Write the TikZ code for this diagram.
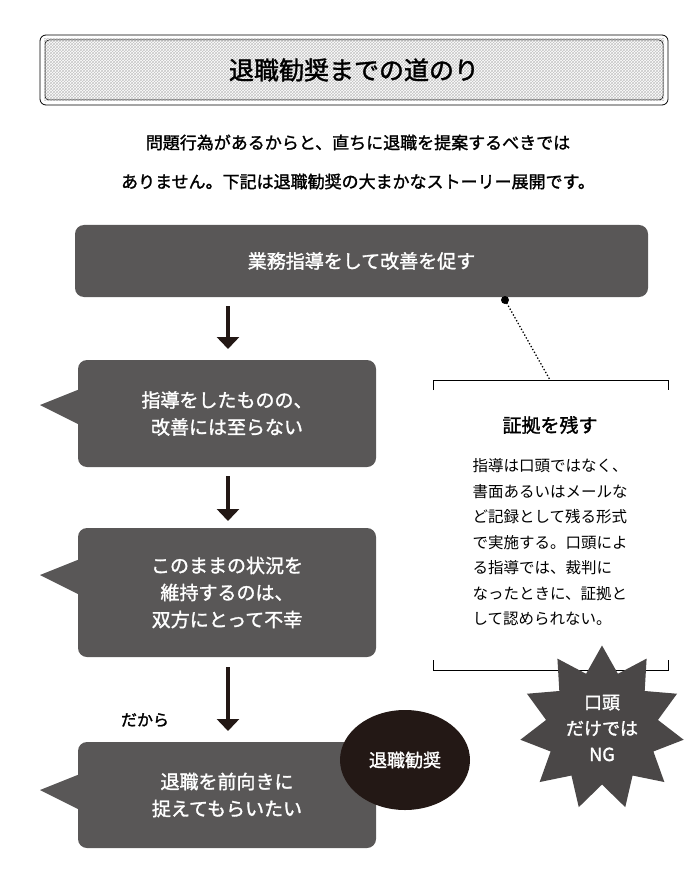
\documentclass[tikz,border=0pt]{standalone}
\usepackage{fontspec}
\setmainfont{Noto Sans CJK JP}
\newfontfamily\jpbold{Noto Sans CJK JP}[FakeBold=1.5]
\usetikzlibrary{patterns, shapes.symbols, shapes.geometric, arrows.meta, positioning}
\definecolor{boxgray}{HTML}{595757}
\definecolor{darkblob}{HTML}{231815}
\definecolor{burstgray}{HTML}{4A4747}

\begin{document}
\begin{tikzpicture}[
    x=1pt, y=-1pt,
    every node/.style={align=center},
    stepbox/.style={rectangle, rounded corners=9pt, fill=boxgray, text=white, font=\jpbold\fontsize{19}{27}\selectfont},
    tail/.style={fill=boxgray},
    downarrow/.style={-{Triangle[length=12pt, width=22pt]}, line width=4pt, darkblob},
    note/.style={font=\fontsize{15.5}{25.5}\selectfont, align=left}
]
\useasboundingbox (0,0) rectangle (692,890);

% --- Titel
\fill[white] (40,35) rectangle (668,105);
\path[pattern=crosshatch, pattern color=gray!45] (44,39) rectangle (664,101);
\draw[rounded corners=6pt, line width=0.8pt] (40,35) rectangle (668,105);
\draw[rounded corners=4pt, line width=0.5pt] (45,40) rectangle (663,100);
\node[font=\jpbold\fontsize{25}{30}\selectfont] (title) at (354,70) {退職勧奨までの道のり};

\node[font=\jpbold\fontsize{17}{39}\selectfont] (intro) at (358,162)
  {問題行為があるからと、直ちに退職を提案するべきでは\\ありません。下記は退職勧奨の大まかなストーリー展開です。};

% --- Ablauf
\node[stepbox, minimum width=573pt, minimum height=72pt] (guide) at (361.5,261) {業務指導をして改善を促す};

\fill[tail] (90,385) -- (40,405) -- (90,430) -- cycle;
\node[stepbox, minimum width=298pt, minimum height=107pt] (fail) at (227,413.5) {指導をしたものの、\\改善には至らない};

\fill[tail] (90,555) -- (40,575) -- (90,600) -- cycle;
\node[stepbox, minimum width=298pt, minimum height=129pt] (keep) at (227,592.5) {このままの状況を\\維持するのは、\\双方にとって不幸};

\fill[tail] (90,770) -- (40,790) -- (90,815) -- cycle;
\node[stepbox, minimum width=298pt, minimum height=106pt] (retire) at (227,795) {退職を前向きに\\捉えてもらいたい};

\node[ellipse, fill=darkblob, text=white, minimum width=130pt, minimum height=100pt,
  font=\jpbold\fontsize{18}{22}\selectfont] (kanshou) at (405,760) {退職勧奨};

\coordinate (a1) at (228,306);
\coordinate (a2) at (228,476);
\coordinate (a3) at (228,667);
\draw[downarrow] (a1) -- (228,349);
\draw[downarrow] (a2) -- (228,521);
\draw[downarrow] (a3) -- (228,731);
\node[font=\jpbold\fontsize{16}{20}\selectfont] (dakara) at (145,720) {だから};

% --- Hinweis
\fill (505,300) circle (4pt);
\coordinate (dot) at (505,300);
\coordinate (noteTop) at (550,380);
\draw[dotted, line width=1.3pt] (dot) -- (noteTop);
\draw[line width=0.8pt] (433,390) -- (433,380) -- (668,380) -- (668,390);
\draw[line width=0.8pt] (433,660) -- (433,670) -- (668,670) -- (668,660);
\node[font=\jpbold\fontsize{19}{22}\selectfont] (evid) at (550,425) {証拠を残す};
\node[note, anchor=north] (evidtext) at (550,455)
  {指導は口頭ではなく、\\書面あるいはメールな\\ど記録として残る形式\\で実施する。口頭によ\\る指導では、裁判に\\なったときに、証拠と\\して認められない。};

\node[starburst, starburst points=11, starburst point height=26pt, random starburst=0,
  fill=burstgray, text=white, minimum width=165pt, minimum height=165pt,
  font=\jpbold\fontsize{18}{26}\selectfont] (ng) at (602,728) {口頭\\だけでは\\NG};
\end{tikzpicture}
\end{document}
